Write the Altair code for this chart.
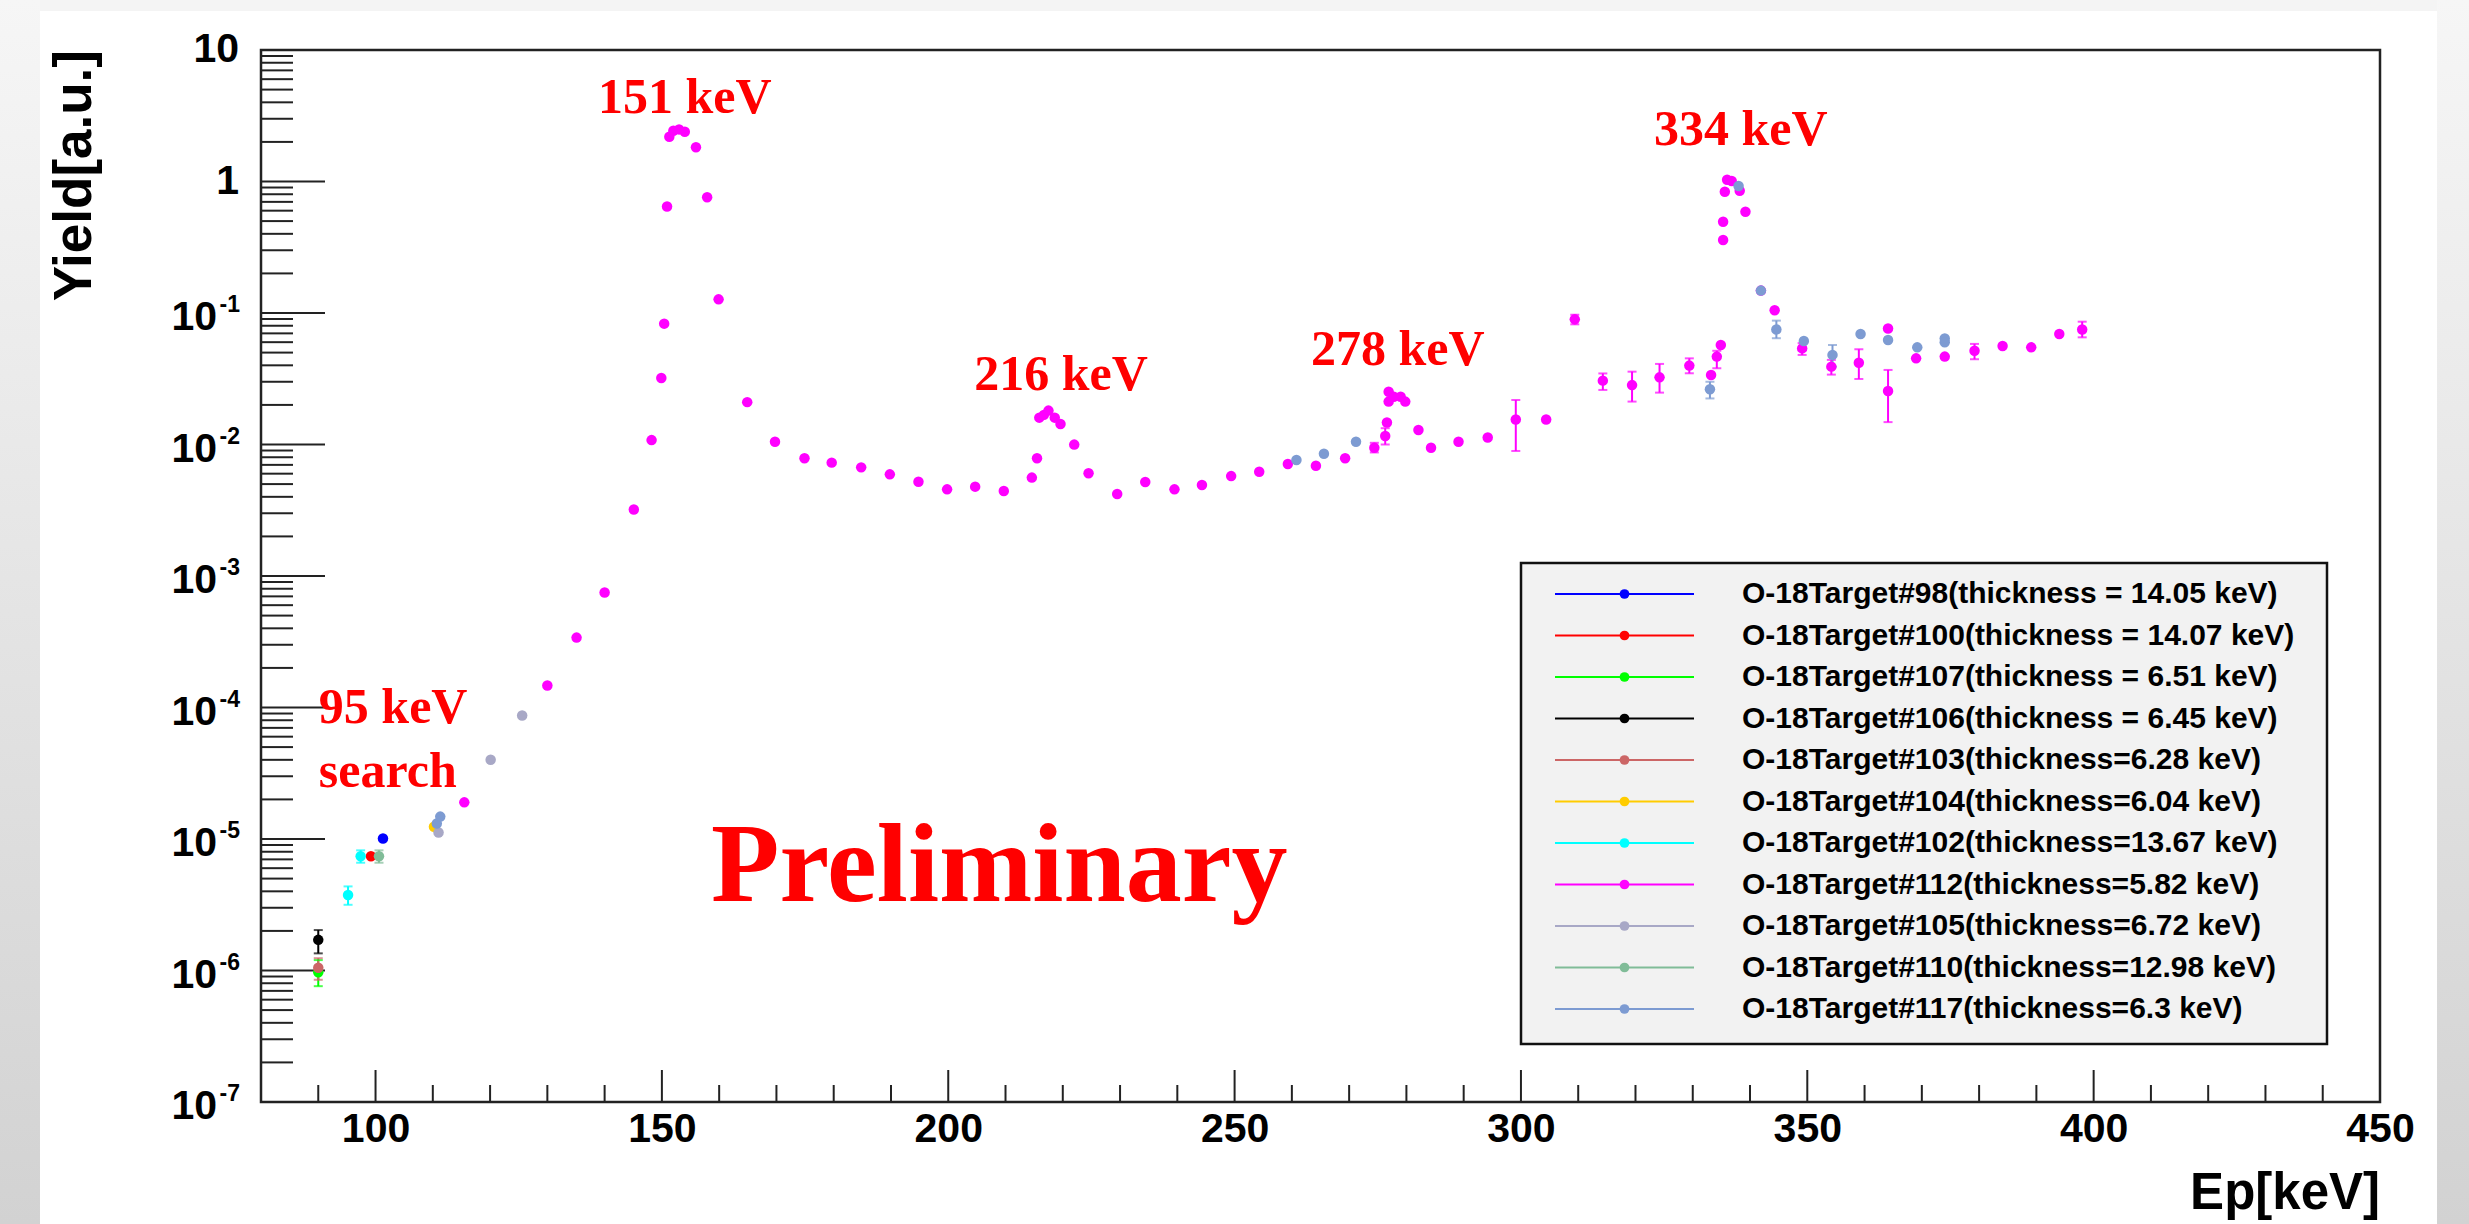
import altair as alt
import pandas as pd

# ---------------- data ----------------
SERIES = [
    "O-18Target#98(thickness = 14.05 keV)",
    "O-18Target#100(thickness = 14.07 keV)",
    "O-18Target#107(thickness = 6.51 keV)",
    "O-18Target#106(thickness = 6.45 keV)",
    "O-18Target#103(thickness=6.28 keV)",
    "O-18Target#104(thickness=6.04 keV)",
    "O-18Target#102(thickness=13.67 keV)",
    "O-18Target#112(thickness=5.82 keV)",
    "O-18Target#105(thickness=6.72 keV)",
    "O-18Target#110(thickness=12.98 keV)",
    "O-18Target#117(thickness=6.3 keV)",
]
COLORS = ["#0000ff", "#ff0000", "#00ff00", "#000000", "#cc6666", "#ffcc00",
          "#00ffff", "#ff00ff", "#a8a8c6", "#80bc98", "#7d9bd2"]

X98 = [101.3]
Y98 = [1.01e-5]
X100 = [99.2]
Y100 = [7.4e-6]
X107 = [90.0]
Y107 = [0.97e-6]
X106 = [90.0]
Y106 = [1.71e-6]
X103 = [90.0]
Y103 = [1.05e-6]
X104 = [110.2]
Y104 = [1.24e-5]
X102 = [95.2, 97.4]
Y102 = [3.75e-6, 7.4e-6]
X112 = [115.5, 130.0, 135.1, 140.0, 145.1, 148.2, 149.9, 150.4, 150.9, 151.3,
        152.0, 153.0, 154.0, 155.95, 157.9, 159.9, 164.9, 169.75, 174.9, 179.65,
        184.8, 189.8, 194.8, 199.8, 204.7, 209.7, 214.6, 215.5, 215.9, 216.7,
        217.5, 218.6, 219.6, 222.0, 224.5, 229.5, 234.4, 239.5, 244.3, 249.4,
        254.3, 259.3, 264.2, 269.3, 274.4, 276.3, 276.6, 276.9, 276.9, 277.8,
        279.0, 279.8, 282.1, 284.3, 289.1, 294.2, 299.1, 304.4, 309.4, 314.3,
        319.4, 324.2, 329.4, 333.2, 334.2, 334.9, 335.3, 335.3, 335.6, 336.0,
        336.8, 338.2, 339.2, 341.9, 344.3, 349.1, 354.2, 359.0, 364.1, 364.1,
        369.0, 374.0, 379.2, 384.1, 389.1, 394.0, 398.0]
Y112 = [1.9e-5, 1.47e-4, 3.4e-4, 7.5e-4, 3.2e-3, 1.08e-2, 3.2e-2, 8.3e-2, 0.645, 2.19,
        2.43, 2.49, 2.39, 1.82, 0.76, 0.127, 0.021, 0.0105, 0.00785, 0.00728,
        0.0067, 0.00593, 0.00521, 0.00456, 0.00478, 0.00443, 0.0056, 0.00785, 0.016, 0.0168,
        0.0181, 0.016, 0.0143, 0.00998, 0.00604, 0.0042, 0.00519, 0.00456, 0.00492, 0.00575,
        0.00621, 0.00711, 0.0069, 0.00785, 0.00946, 0.0116, 0.0147, 0.0252, 0.0212, 0.0231,
        0.0231, 0.0212, 0.0129, 0.00946, 0.0105, 0.0113, 0.0155, 0.0155, 0.0895, 0.0306,
        0.0283, 0.0324, 0.0398, 0.0338, 0.0466, 0.0571, 0.359, 0.494, 0.836, 1.03,
        1.01, 0.851, 0.589, 0.148, 0.105, 0.0538, 0.0391, 0.0419, 0.0763, 0.0255,
        0.0452, 0.0466, 0.0517, 0.0561, 0.0548, 0.0692, 0.075]
X105 = [111.0, 120.1, 125.6]
Y105 = [1.12e-5, 4.0e-5, 8.7e-5]
X110 = [100.6]
Y110 = [7.4e-6]
X117 = [110.7, 111.3, 260.8, 265.6, 271.2, 333.0, 338.0, 341.9, 344.6, 349.4,
        354.4, 359.3, 364.1, 369.2, 374.0, 374.0]
Y117 = [1.31e-5, 1.48e-5, 0.00762, 0.0085, 0.0105, 0.0263, 0.925, 0.148, 0.075, 0.0612,
        0.048, 0.0692, 0.0624, 0.0548, 0.0641, 0.060]

# error bars (series index, x, low, high)
ERR_S = [2, 3, 4, 6, 6, 9,
         7, 7, 7, 7, 7, 7, 7, 7, 7, 7, 7, 7, 7, 7, 7,
         10, 10, 10]
ERR_X = [90.0, 90.0, 90.0, 95.2, 97.4, 100.6,
         274.4, 276.3, 299.1, 309.4, 314.3, 319.4, 324.2, 329.4, 334.2, 349.1, 354.2,
         359.0, 364.1, 379.2, 398.0,
         333.0, 344.6, 354.4]
ERR_LO = [0.76e-6, 1.35e-6, 0.85e-6, 3.16e-6, 6.6e-6, 6.6e-6,
          0.0087, 0.0100, 0.00893, 0.082, 0.026, 0.0212, 0.0248, 0.0348, 0.038, 0.048, 0.034,
          0.0315, 0.0148, 0.0445, 0.0653,
          0.0224, 0.0643, 0.0391]
ERR_HI = [1.2e-6, 2.03e-6, 1.24e-6, 4.36e-6, 8.2e-6, 8.2e-6,
          0.0103, 0.0133, 0.0218, 0.097, 0.0347, 0.0358, 0.041, 0.0452, 0.0516, 0.059, 0.044,
          0.053, 0.0369, 0.0582, 0.0859,
          0.030, 0.0875, 0.0571]

# axis ticks
X_MAJOR = [100, 150, 200, 250, 300, 350, 400, 450]
X_MINOR = [90, 110, 120, 130, 140, 160, 170, 180, 190, 210, 220, 230, 240, 260, 270, 280,
           290, 310, 320, 330, 340, 360, 370, 380, 390, 410, 420, 430, 440]
Y_MAJOR = [10, 1, 1e-1, 1e-2, 1e-3, 1e-4, 1e-5, 1e-6, 1e-7]
Y_BASE = ["10", "1", "10", "10", "10", "10", "10", "10", "10"]
Y_EXP = ["", "", "-1", "-2", "-3", "-4", "-5", "-6", "-7"]
Y_MINOR = [m * 10.0 ** k for k in range(-7, 1) for m in range(2, 10)]

# annotations
ANN_TEXT = ["151 keV", "216 keV", "278 keV", "334 keV"]
ANN_X = [154.0, 219.7, 278.5, 338.4]
ANN_Y = [3.32, 0.0259, 0.0403, 1.90]
SEARCH_TEXT = ["95 keV", "search"]
SEARCH_X = [90.1, 90.1]
SEARCH_Y = [7.62e-5, 2.48e-5]
PRELIM_TEXT = ["Preliminary"]
PRELIM_X = [208.9]
PRELIM_Y = [3.4e-6]

# ---------------- tables ----------------
XS = [X98, X100, X107, X106, X103, X104, X102, X112, X105, X110, X117]
YS = [Y98, Y100, Y107, Y106, Y103, Y104, Y102, Y112, Y105, Y110, Y117]
rows = []
for i, (xs_, ys_) in enumerate(zip(XS, YS)):
    for x, y in zip(xs_, ys_):
        rows.append({"series": SERIES[i], "order": i, "x": x, "y": y})
pts = pd.DataFrame(rows)
err = pd.DataFrame({"series": [SERIES[i] for i in ERR_S], "x": ERR_X,
                    "lo": ERR_LO, "hi": ERR_HI})
xmaj = pd.DataFrame({"x": X_MAJOR})
xmin = pd.DataFrame({"x": X_MINOR})
ymaj = pd.DataFrame({"y": Y_MAJOR, "base": Y_BASE, "exp": Y_EXP})
ymin = pd.DataFrame({"y": Y_MINOR})
ann = pd.DataFrame({"t": ANN_TEXT, "x": ANN_X, "y": ANN_Y})
srch = pd.DataFrame({"t": SEARCH_TEXT, "x": SEARCH_X, "y": SEARCH_Y})
prel = pd.DataFrame({"t": PRELIM_TEXT, "x": PRELIM_X, "y": PRELIM_Y})
leg = pd.DataFrame({"series": SERIES, "idx": list(range(len(SERIES)))})
one = pd.DataFrame({"a": [0]})

W, H = 2119, 1052
PL, PT, PR, PB = 261, 50, 89, 122
SANS = "Liberation Sans, Arial, sans-serif"
SERIF = "Liberation Serif, Times New Roman, serif"

xs = alt.Scale(domain=[80, 450], zero=False, nice=False)
ys = alt.Scale(type="log", domain=[1e-7, 10], nice=False)
xaxis = alt.Axis(values=X_MAJOR, ticks=False, domain=False, grid=False, title=None,
                 labelFont=SANS, labelFontSize=41, labelFontWeight="bold",
                 labelColor="#000", labelPadding=7, labelFlush=False, labelOverlap=False)
color = alt.Color("series:N", scale=alt.Scale(domain=SERIES, range=COLORS), legend=None)

X = lambda f="x": alt.X(f + ":Q", scale=xs, axis=xaxis)
Y = lambda f="y": alt.Y(f + ":Q", scale=ys, axis=None)

# slide background strips (decoration around the figure)
grad = alt.LinearGradient(gradient="linear", x1=0, y1=0, x2=0, y2=1,
                          stops=[alt.GradientStop(color="#f6f6f6", offset=0),
                                 alt.GradientStop(color="#d2d2d2", offset=1)])
strip_l = alt.Chart(one).mark_rect(fill=grad).encode(
    x=alt.value(-PL), x2=alt.value(-PL + 40), y=alt.value(-PT), y2=alt.value(H + PB))
strip_r = alt.Chart(one).mark_rect(fill=grad).encode(
    x=alt.value(W + PR - 32), x2=alt.value(W + PR), y=alt.value(-PT), y2=alt.value(H + PB))
strip_t = alt.Chart(one).mark_rect(fill="#f4f4f4").encode(
    x=alt.value(-PL + 40), x2=alt.value(W + PR - 32), y=alt.value(-PT), y2=alt.value(-PT + 11))

xt_major = alt.Chart(xmaj).mark_rule(color="#222", strokeWidth=2).encode(
    x=X(), y=alt.value(H), y2=alt.value(H - 32))
xt_minor = alt.Chart(xmin).mark_rule(color="#222", strokeWidth=2).encode(
    x=X(), y=alt.value(H), y2=alt.value(H - 17))
yt_major = alt.Chart(ymaj).mark_rule(color="#222", strokeWidth=2).encode(
    y=Y(), x=alt.value(0), x2=alt.value(64))
yt_minor = alt.Chart(ymin).mark_rule(color="#222", strokeWidth=2).encode(
    y=Y(), x=alt.value(0), x2=alt.value(32))

ylab_plain = alt.Chart(ymaj).transform_filter("datum.exp == ''").mark_text(
    align="right", baseline="middle", font=SANS, fontSize=41, fontWeight="bold",
    color="#000").encode(y=Y(), x=alt.value(-22), text="base:N")
ylab_base = alt.Chart(ymaj).transform_filter("datum.exp != ''").mark_text(
    align="right", baseline="middle", font=SANS, fontSize=41, fontWeight="bold",
    color="#000", dy=5).encode(y=Y(), x=alt.value(-44), text="base:N")
ylab_exp = alt.Chart(ymaj).transform_filter("datum.exp != ''").mark_text(
    align="right", baseline="middle", font=SANS, fontSize=23, fontWeight="bold",
    color="#000", dy=-8).encode(y=Y(), x=alt.value(-21), text="exp:N")

ytitle = alt.Chart(one).mark_text(
    text="Yield[a.u.]", angle=270, align="right", baseline="middle",
    font=SANS, fontSize=53, fontWeight="bold",
    color="#000").encode(x=alt.value(-186), y=alt.value(0))
xtitle = alt.Chart(one).mark_text(
    text="Ep[keV]", align="right", baseline="alphabetic", font=SANS,
    fontSize=51, fontWeight="bold", color="#000").encode(
    x=alt.value(W), y=alt.value(1159))

ebar = alt.Chart(err).mark_rule(strokeWidth=2).encode(
    x=X(), y=Y("lo"), y2="hi:Q", color=color)
ecap_lo = alt.Chart(err).mark_tick(orient="horizontal", size=9, thickness=2).encode(
    x=X(), y=Y("lo"), color=color)
ecap_hi = alt.Chart(err).mark_tick(orient="horizontal", size=9, thickness=2).encode(
    x=X(), y=Y("hi"), color=color)

points = alt.Chart(pts).mark_circle(size=110, opacity=1).encode(
    x=X(), y=Y(), color=color, order="order:Q")

ann_t = alt.Chart(ann).mark_text(
    align="center", baseline="alphabetic", font=SERIF, fontSize=50,
    fontWeight="bold", color="#ff0000").encode(x=X(), y=Y(), text="t:N")
srch_t = alt.Chart(srch).mark_text(
    align="left", baseline="alphabetic", font=SERIF, fontSize=50,
    fontWeight="bold", color="#ff0000").encode(x=X(), y=Y(), text="t:N")
prel_t = alt.Chart(prel).mark_text(
    align="center", baseline="alphabetic", font=SERIF, fontSize=112,
    fontWeight="bold", color="#ff0000").encode(x=X(), y=Y(), text="t:N")

LY = alt.Y("idx:Q", scale=alt.Scale(domain=[0, 10], range=[544, 959]), axis=None)
leg_box = alt.Chart(one).mark_rect(fill="#f2f2f2", stroke="#111", strokeWidth=2.5).encode(
    x=alt.value(1260), x2=alt.value(2066), y=alt.value(513), y2=alt.value(994))
leg_line = alt.Chart(leg).mark_rule(strokeWidth=2).encode(
    y=LY, x=alt.value(1294), x2=alt.value(1433), color=color)
leg_pt = alt.Chart(leg).mark_circle(size=95, opacity=1).encode(
    y=LY, x=alt.value(1363.5), color=color)
leg_txt = alt.Chart(leg).mark_text(
    align="left", baseline="middle", font=SANS, fontSize=30, fontWeight="bold",
    color="#000").encode(y=LY, x=alt.value(1481), text="series:N")

chart = alt.layer(
    strip_l, strip_r, strip_t,
    xt_major, xt_minor, yt_major, yt_minor, ylab_plain, ylab_base, ylab_exp,
    ytitle, xtitle, ebar, ecap_lo, ecap_hi, points, ann_t, srch_t, prel_t,
    leg_box, leg_line, leg_pt, leg_txt,
).resolve_scale(y="independent").properties(
    width=W, height=H,
    autosize=alt.AutoSizeParams(type="none"),
    padding={"left": PL, "top": PT, "right": PR, "bottom": PB},
    background="#ffffff",
).configure_view(stroke="#222", strokeWidth=2.5)

chart.save("out.html", embed_options={"renderer": "svg", "actions": False})
